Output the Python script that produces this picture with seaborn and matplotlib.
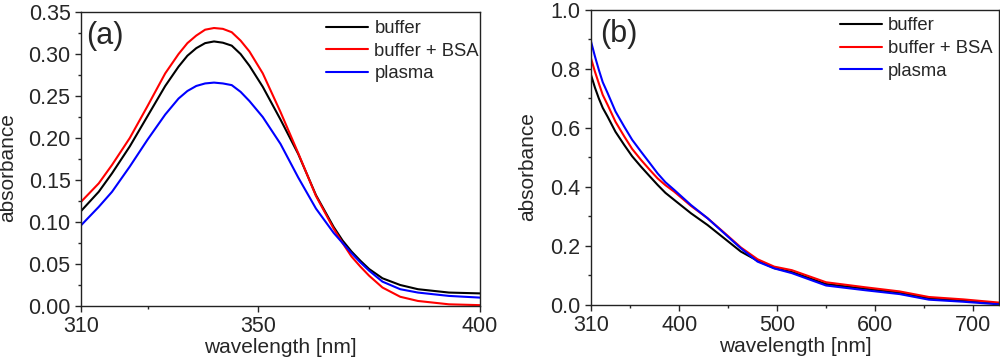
import numpy as np
import pandas as pd
import seaborn as sns
import matplotlib.pyplot as plt
from matplotlib.ticker import FixedLocator, MultipleLocator, FormatStrFormatter

# panel (a): 310-400 nm
wl_a = [310, 314, 317, 321, 325, 329, 332, 334, 336, 338, 340, 342, 344, 346, 348,
        351, 355, 359, 363, 367, 369, 371, 373, 375, 378, 382, 386, 393, 400]
buffer_a = [0.113, 0.136, 0.158, 0.190, 0.226, 0.262, 0.285, 0.298, 0.307, 0.313,
            0.315, 0.3135, 0.310, 0.300, 0.286, 0.261, 0.222, 0.181, 0.132, 0.094,
            0.078, 0.065, 0.054, 0.044, 0.033, 0.025, 0.020, 0.016, 0.015]
bsa_a = [0.124, 0.146, 0.168, 0.200, 0.238, 0.277, 0.300, 0.313, 0.322, 0.329,
         0.331, 0.330, 0.326, 0.316, 0.303, 0.277, 0.231, 0.182, 0.131, 0.092,
         0.075, 0.059, 0.047, 0.036, 0.022, 0.011, 0.006, 0.002, 0.001]
plasma_a = [0.096, 0.118, 0.136, 0.166, 0.198, 0.228, 0.247, 0.256, 0.262, 0.265,
            0.266, 0.265, 0.263, 0.255, 0.244, 0.225, 0.193, 0.153, 0.116, 0.087,
            0.075, 0.063, 0.052, 0.042, 0.029, 0.020, 0.016, 0.012, 0.010]

# panel (b): 310-727 nm
wl_b = [310, 314, 318, 322, 327, 335, 344, 352, 361, 370, 378, 386, 395, 412, 429,
        446, 463, 480, 497, 515, 550, 590, 625, 655, 690, 727]
buffer_b = [0.780, 0.737, 0.700, 0.668, 0.638, 0.587, 0.542, 0.504, 0.469, 0.436,
            0.407, 0.380, 0.356, 0.311, 0.271, 0.226, 0.181, 0.150, 0.125, 0.112,
            0.071, 0.055, 0.042, 0.023, 0.015, 0.005]
bsa_b = [0.836, 0.791, 0.751, 0.712, 0.678, 0.621, 0.571, 0.529, 0.492, 0.458,
         0.429, 0.406, 0.384, 0.336, 0.294, 0.245, 0.195, 0.155, 0.130, 0.118,
         0.077, 0.060, 0.046, 0.027, 0.019, 0.008]
plasma_b = [0.893, 0.843, 0.797, 0.755, 0.718, 0.656, 0.604, 0.560, 0.520, 0.481,
            0.446, 0.416, 0.390, 0.339, 0.294, 0.243, 0.192, 0.147, 0.124, 0.108,
            0.066, 0.050, 0.037, 0.018, 0.011, 0.002]

labels = ['buffer', 'buffer + BSA', 'plasma']
colors = ['black', 'red', 'blue']

sns.set_style('ticks')
plt.rcParams['font.family'] = ['Liberation Sans', 'DejaVu Sans']
plt.rcParams['axes.linewidth'] = 1.0
plt.rcParams['xtick.major.size'] = 4
plt.rcParams['ytick.major.size'] = 4
plt.rcParams['xtick.minor.size'] = 2.5
plt.rcParams['ytick.minor.size'] = 2.5
plt.rcParams['xtick.major.width'] = 1.0
plt.rcParams['ytick.major.width'] = 1.0
plt.rcParams['xtick.minor.width'] = 1.0
plt.rcParams['ytick.minor.width'] = 1.0
plt.rcParams['axes.edgecolor'] = '#222222'

fig = plt.figure(figsize=(10, 3.62), dpi=100)
ax1 = fig.add_axes([0.081, 0.1547, 0.399, 0.812])
ax2 = fig.add_axes([0.591, 0.1575, 0.408, 0.815])

for vals, lab, col in zip([buffer_a, bsa_a, plasma_a], labels, colors):
    sns.lineplot(x=wl_a, y=vals, color=col, label=lab, linewidth=1.5, ax=ax1)
for vals, lab, col in zip([buffer_b, bsa_b, plasma_b], labels, colors):
    sns.lineplot(x=wl_b, y=vals, color=col, label=lab, linewidth=1.5, ax=ax2)

# panel a axes
ax1.set_xlim(310, 400)
ax1.set_ylim(0, 0.35)
ax1.xaxis.set_major_locator(FixedLocator([310, 350, 400]))
ax1.xaxis.set_minor_locator(FixedLocator([325, 375]))
ax1.yaxis.set_major_locator(MultipleLocator(0.05))
ax1.yaxis.set_minor_locator(MultipleLocator(0.025))
ax1.yaxis.set_major_formatter(FormatStrFormatter('%.2f'))

# panel b axes
ax2.set_xlim(310, 726.5)
ax2.set_ylim(0, 1.0)
ax2.xaxis.set_major_locator(FixedLocator([310, 400, 500, 600, 700]))
ax2.xaxis.set_minor_locator(FixedLocator([350, 450, 550, 650]))
ax2.yaxis.set_major_locator(MultipleLocator(0.2))
ax2.yaxis.set_minor_locator(MultipleLocator(0.1))
ax2.yaxis.set_major_formatter(FormatStrFormatter('%.1f'))

for ax, tag, tx, lx, ly, xly in [(ax1, '(a)', 0.012, -0.16, 0.47, -0.11),
                                 (ax2, '(b)', 0.022, -0.132, 0.468, -0.11)]:
    ax.tick_params(axis='both', which='both', direction='out', labelsize=15.5,
                   top=False, right=False)
    ax.set_xlabel('wavelength [nm]', fontsize=15)
    ax.set_ylabel('absorbance', fontsize=15)
    ax.xaxis.set_label_coords(0.5, xly)
    ax.yaxis.set_label_coords(lx, ly)
    ax.text(tx, 0.92, tag, transform=ax.transAxes, fontsize=22, va='center', ha='left')
    for s in ax.spines.values():
        s.set_visible(True)

ax1.legend(loc='upper left', bbox_to_anchor=(0.614, 0.973), frameon=False,
           fontsize=13.3, handlelength=2.3, handletextpad=0.32, borderpad=0,
           borderaxespad=0, labelspacing=0.31)
ax2.legend(loc='upper left', bbox_to_anchor=(0.61, 0.975), frameon=False,
           fontsize=13.3, handlelength=2.3, handletextpad=0.32, borderpad=0,
           borderaxespad=0, labelspacing=0.31)

plt.savefig('out.png', dpi=100)
